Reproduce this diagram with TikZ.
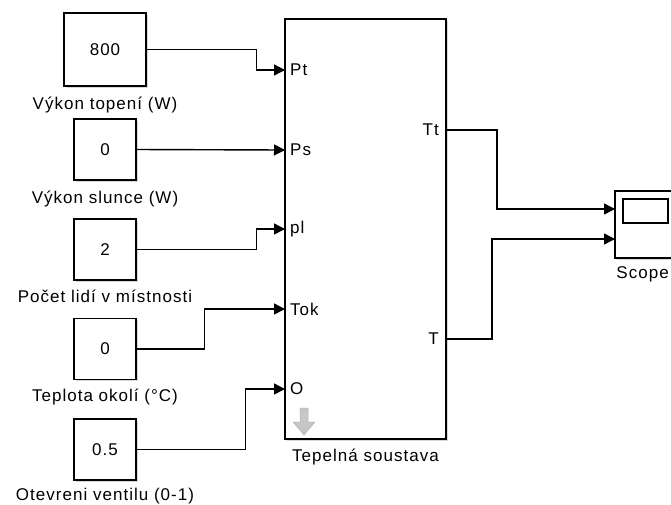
\documentclass[tikz,border=0pt]{standalone}
\usepackage{fontspec}
\setmainfont{Liberation Sans}[LetterSpace=6.0]
\usepackage{tikz}
\usetikzlibrary{arrows.meta,positioning,shadows}
\tikzset{
  sim-block/.style={draw=black, fill=white, line width=1.5pt, inner sep=0pt,
    drop shadow={shadow xshift=1.6pt, shadow yshift=-1.6pt, opacity=0.3}},
  sim-label/.style={inner sep=1pt, font=\fontsize{17}{19}\selectfont},
  sim-port-in/.style={anchor=west, inner xsep=5pt, inner ysep=0pt, font=\fontsize{17}{19}\selectfont},
  sim-port-out/.style={anchor=east, inner xsep=7pt, inner ysep=0pt, font=\fontsize{17}{19}\selectfont},
  sim-signal/.style={draw=black, line width=1.4pt, -{Triangle[length=11pt,width=11pt]}}
}

\begin{document}
\begin{tikzpicture}[x=1pt, y=-1pt, font=\fontsize{17}{19}\selectfont]
  \useasboundingbox (0,0) rectangle (671,504);
  \fill[white] (0,0) rectangle (671,504);

  % constant blocks
  \node[sim-block, minimum width=82pt, minimum height=73pt] (heat) at (105,49.5) {800};
  \node[sim-block, minimum width=62pt, minimum height=61pt] (sun) at (105,149.5) {0};
  \node[sim-block, minimum width=62pt, minimum height=61pt] (people) at (105,249.5) {2};
  \node[sim-block, minimum width=62pt, minimum height=61pt] (ambient) at (105,349) {0};
  \node[sim-block, minimum width=62pt, minimum height=61pt] (valve) at (105,449.5) {0.5};

  \node[sim-label, below=9pt of heat] {Výkon topení (W)};
  \node[sim-label, below=9pt of sun] {Výkon slunce (W)};
  \node[sim-label, below=8pt of people] {Počet lidí v místnosti};
  \node[sim-label, below=8pt of ambient] {Teplota okolí (°C)};
  \node[sim-label, below=6pt of valve] {Otevreni ventilu (0-1)};

  % subsystem
  \node[sim-block, minimum width=161pt, minimum height=420pt] (system) at (365.5,229) {};
  \node[sim-label, below=8pt of system] {Tepelná soustava};
  \fill[black!22, draw=black!30, line width=0.5pt]
    (300,408) -- (308,408) -- (308,422) -- (315,422) -- (304,435) -- (293,422) -- (300,422) -- cycle;

  \node[sim-port-in] (pt) at (285,70) {Pt};
  \node[sim-port-in] (ps) at (285,150) {Ps};
  \node[sim-port-in] (pl) at (285,229) {pl};
  \node[sim-port-in] (tok) at (285,309) {Tok};
  \node[sim-port-in] (o) at (285,389) {O};
  \node[sim-port-out] (tt) at (446,130) {Tt};
  \node[sim-port-out] (t) at (446,339) {T};

  % scope
  \node[sim-block, minimum width=62pt, minimum height=67pt] (scope) at (646,224.5) {};
  \draw[line width=1.4pt] (623,199) rectangle (668,223);
  \node[sim-label, below right=7pt and 1pt of scope.south west, anchor=north west] {Scope};
  \coordinate (scope-in1) at (615,209);
  \coordinate (scope-in2) at (615,239);

  % signals
  \draw[sim-signal] (heat.east) -- ++(110,0) |- (pt.west);
  \draw[sim-signal] (sun.east) -- (ps.west);
  \draw[sim-signal] (people.east) -- ++(120,0) |- (pl.west);
  \draw[sim-signal] (ambient.east) -- ++(68,0) |- (tok.west);
  \draw[sim-signal] (valve.east) -- ++(109,0) |- (o.west);
  \draw[sim-signal] (tt.east) -- ++(51,0) |- (scope-in1);
  \draw[sim-signal] (t.east) -- ++(46,0) |- (scope-in2);
\end{tikzpicture}
\end{document}
